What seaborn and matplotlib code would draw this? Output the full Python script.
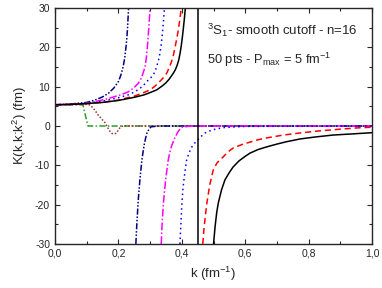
import matplotlib
matplotlib.use("Agg")
import matplotlib.pyplot as plt
import seaborn as sns
from matplotlib.ticker import MultipleLocator

# K(k,k;k^2) curves: left branch (before pole) and right branch (after)
black_left_k = [0.0, 0.05, 0.1, 0.15, 0.2, 0.25, 0.28, 0.3, 0.321, 0.34, 0.35, 0.36, 0.373,
                0.38, 0.385, 0.39, 0.394, 0.398, 0.402, 0.405, 0.408, 0.411]
black_left_v = [5.4, 5.5, 5.7, 6.0, 6.5, 7.3, 7.9, 8.5, 9.2, 10.3, 11.0, 11.9, 13.4,
                14.4, 15.4, 16.7, 18.3, 20.3, 22.8, 25.0, 27.3, 30.0]
black_right_k = [0.50, 0.505, 0.51, 0.515, 0.525, 0.536, 0.55, 0.562, 0.58, 0.6, 0.615, 0.64,
                 0.668, 0.7, 0.73, 0.773, 0.82, 0.877, 0.94, 1.0]
black_right_v = [-30.0, -25.5, -22.0, -19.6, -16.3, -13.7, -11.8, -10.4, -8.9, -7.7, -6.9, -6.0,
                 -5.3, -4.6, -4.0, -3.3, -2.8, -2.3, -2.0, -1.7]

red_left_k = [0.0, 0.05, 0.1, 0.15, 0.2, 0.25, 0.28, 0.3, 0.315, 0.33, 0.342, 0.352, 0.36,
              0.368, 0.374, 0.379, 0.384, 0.388, 0.391, 0.394, 0.398]
red_left_v = [5.4, 5.5, 5.7, 6.0, 6.6, 7.6, 8.5, 9.2, 10.1, 11.3, 12.3, 13.4, 14.8,
              16.5, 18.2, 20.2, 22.2, 24.0, 25.6, 27.2, 30.0]
red_right_k = [0.466, 0.47, 0.474, 0.479, 0.488, 0.499, 0.51, 0.52, 0.53, 0.545, 0.562, 0.59,
               0.615, 0.64, 0.67, 0.72, 0.77, 0.826, 0.9, 0.95, 1.0]
red_right_v = [-30.0, -26.0, -23.0, -19.6, -15.0, -11.2, -9.5, -8.6, -7.9, -6.6, -5.6, -4.7,
               -4.1, -3.5, -3.0, -2.3, -1.8, -1.3, -0.8, -0.5, -0.3]

blue_left_k = [0.0, 0.05, 0.1, 0.15, 0.2, 0.23, 0.252, 0.268, 0.28, 0.289, 0.3, 0.31, 0.317,
               0.322, 0.327, 0.331, 0.335, 0.338, 0.342, 0.345]
blue_left_v = [5.4, 5.5, 5.8, 6.3, 7.2, 7.9, 8.7, 9.6, 10.4, 11.3, 12.1, 13.0, 14.2,
               15.5, 16.9, 18.5, 20.7, 23.0, 26.5, 30.0]
blue_right_k = [0.394, 0.397, 0.40, 0.404, 0.41, 0.415, 0.422, 0.43, 0.44, 0.45, 0.46, 0.473,
                0.495, 0.53, 0.6, 1.0]
blue_right_v = [-30.0, -25.0, -20.0, -15.5, -11.5, -8.7, -7.0, -5.5, -4.4, -3.6, -2.7, -1.8,
                -1.0, -0.4, -0.1, 0.0]

mag_left_k = [0.0, 0.05, 0.1, 0.126, 0.16, 0.189, 0.21, 0.231, 0.25, 0.263, 0.27, 0.275,
              0.28, 0.284, 0.288, 0.291, 0.294, 0.297, 0.30]
mag_left_v = [5.4, 5.5, 5.8, 6.2, 6.8, 7.5, 8.0, 8.7, 9.8, 10.9, 11.8, 12.8,
              14.0, 15.1, 17.3, 19.8, 22.8, 26.5, 30.0]
mag_right_k = [0.335, 0.338, 0.342, 0.346, 0.35, 0.357, 0.362, 0.368, 0.374, 0.379, 0.385,
               0.39, 0.40, 0.43, 1.0]
mag_right_v = [-30.0, -24.5, -19.6, -16.0, -13.0, -8.7, -6.7, -5.0, -3.8, -2.8, -1.9,
               -1.2, -0.3, 0.0, 0.0]

navy_left_k = [0.0, 0.05, 0.1, 0.126, 0.15, 0.168, 0.185, 0.2, 0.208, 0.215, 0.22, 0.224,
               0.227, 0.229, 0.232]
navy_left_v = [5.4, 5.6, 6.0, 6.6, 7.4, 8.3, 9.6, 11.3, 13.0, 15.1, 17.4, 20.2,
               22.8, 25.3, 30.0]
navy_right_k = [0.255, 0.258, 0.262, 0.265, 0.268, 0.274, 0.278, 0.282, 0.286, 0.29, 0.296,
                0.303, 0.33, 1.0]
navy_right_v = [-30.0, -25.0, -19.6, -16.3, -13.5, -8.7, -6.4, -4.5, -3.0, -1.8, -0.9,
                -0.2, 0.0, 0.0]

brown_k = [0.0, 0.1, 0.108, 0.115, 0.126, 0.136, 0.147, 0.158, 0.166, 0.173, 0.18, 0.185,
           0.191, 0.196, 0.201, 0.205, 0.21, 0.215, 1.0]
brown_v = [5.4, 5.5, 5.4, 5.0, 4.0, 2.8, 1.8, 0.8, -0.4, -1.3, -1.9, -2.0,
           -1.9, -1.5, -0.9, -0.4, -0.1, 0.0, 0.0]

green_k = [0.0, 0.088, 0.095, 0.104, 1.0]
green_v = [5.4, 5.4, 3.0, 0.0, 0.0]

pole_k = 0.45

xtick_vals = [0.0, 0.2, 0.4, 0.6, 0.8, 1.0]
xtick_labels = ["0,0", "0,2", "0,4", "0,6", "0,8", "1,0"]
ytick_vals = [-30, -20, -10, 0, 10, 20, 30]

sns.set_style("ticks")
plt.rcParams['font.family'] = ['Liberation Sans', 'DejaVu Sans']
plt.rcParams['mathtext.default'] = 'regular'
plt.rcParams['xtick.direction'] = 'in'
plt.rcParams['ytick.direction'] = 'in'

fig = plt.figure(figsize=(3.82, 2.88), dpi=100)
ax = fig.add_axes([0.144, 0.153, 0.83, 0.819])

def draw(k, v, color, ls, lw=1.1):
    sns.lineplot(x=k, y=v, ax=ax, color=color, linestyle=ls, linewidth=lw,
                 sort=False, estimator=None)

# zero-level lines first, poles on top
draw(green_k, green_v, "#2e9a2e", (0, (4, 1.5, 1, 1.5)))
draw(brown_k, brown_v, "#993333", (0, (1, 1.2)))
draw(navy_left_k, navy_left_v, "#000080", (0, (4, 1.2, 1, 1.2, 1, 1.2)))
draw(navy_right_k, navy_right_v, "#000080", (0, (4, 1.2, 1, 1.2, 1, 1.2)))
draw(mag_left_k, mag_left_v, "#ff00ff", (0, (5, 1.5, 1, 1.5)))
draw(mag_right_k, mag_right_v, "#ff00ff", (0, (5, 1.5, 1, 1.5)))
draw(blue_left_k, blue_left_v, "#0000ff", (0, (1, 2.2)))
draw(blue_right_k, blue_right_v, "#0000ff", (0, (1, 2.2)))
draw(red_left_k, red_left_v, "#ff0000", (0, (4, 2.5)))
draw(red_right_k, red_right_v, "#ff0000", (0, (4, 2.5)))
draw(black_left_k, black_left_v, "black", "-")
draw(black_right_k, black_right_v, "black", "-")
ax.axvline(pole_k, color="black", linewidth=1.1)

ax.set_xlim(0, 1.0)
ax.set_ylim(-30, 30)
ax.set_xticks(xtick_vals)
ax.set_xticklabels(xtick_labels)
ax.set_yticks(ytick_vals)
ax.set_yticklabels([str(v) for v in ytick_vals])
ax.xaxis.set_minor_locator(MultipleLocator(0.1))
ax.yaxis.set_minor_locator(MultipleLocator(5))
ax.tick_params(which="both", top=True, right=True, labelsize=7.5, width=0.8)
ax.tick_params(which="major", length=3.5)
ax.tick_params(which="minor", length=2)
for s in ax.spines.values():
    s.set_linewidth(1.0)

ax.set_xlabel("k (fm$^{-1}$)", fontsize=9.5)
ax.set_ylabel("K(k,k;k$^2$) (fm)", fontsize=9.5)

ax.text(0.48, 24.4, "$^3$S$_1$- smooth cutoff - n=16", fontsize=9.5, va="center")
ax.text(0.48, 16.8, "50 pts - P$_{max}$ = 5 fm$^{-1}$", fontsize=9.3, va="center")

fig.savefig("out.png", dpi=100)
